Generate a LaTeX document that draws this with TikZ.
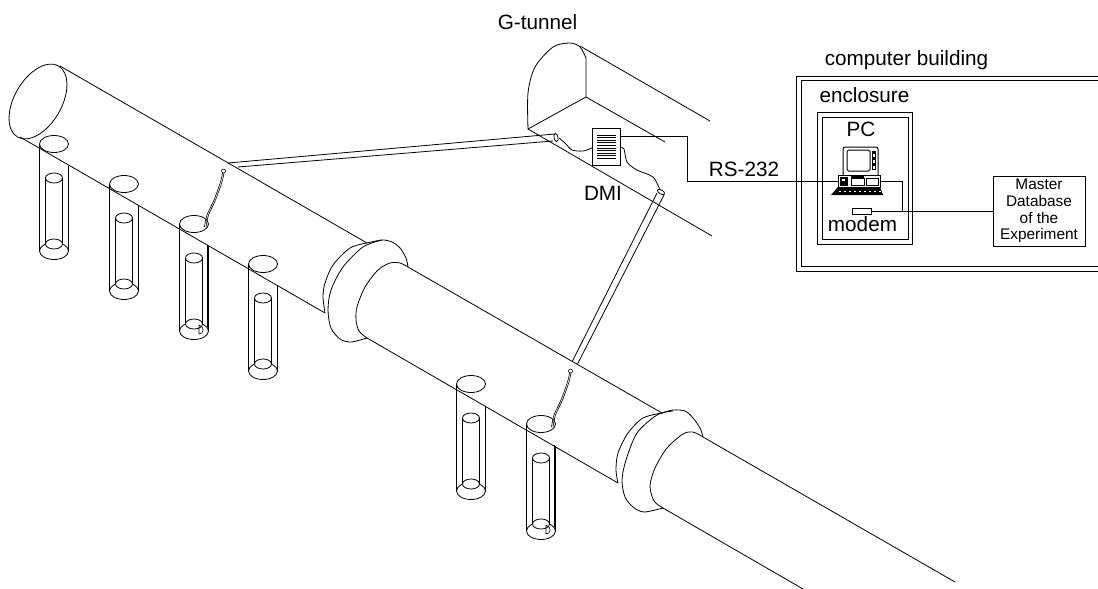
\documentclass[tikz,border=0pt]{standalone}
\usepackage{fontspec}
\setmainfont{Liberation Sans}
\usepackage{tikz}
\usetikzlibrary{
    positioning          % For label positioning
}

\begin{document}
\begin{tikzpicture}[
    x=1pt, y=-1pt,
    line/.style={black, line width=0.8pt}, % Style for all outlines
    cable/.style={black, line width=0.6pt}, % Style for thin sensor cables
    bigtext/.style={font=\fontsize{20.7}{24}\selectfont, inner sep=0pt}, % Style for labels
    smalltext/.style={font=\fontsize{15.4}{16.7}\selectfont, align=center, inner sep=0pt},
    box/.style={line, draw, fill=white, inner sep=0pt} % Style for boxes
]
    \useasboundingbox (0,0) rectangle (1098,589);

    % Main pipe, left part
    \draw[line, rotate around={60:(38,101.5)}] (38,101.5) ellipse (41pt and 23.6pt);
    \draw[line] (60,66) -- (367,243);
    \draw[line] (20,137) -- (325,313);

    % First flange
    \draw[line] plot[smooth] coordinates {(367,243) (350,248) (333,265) (325,283) (323,297) (325,313)};
    \draw[line] plot[smooth] coordinates {(382,240) (363,247) (343,267) (331,290) (328,310) (331,328) (340,339) (351,342) (367,338)};
    \draw[line] plot[smooth] coordinates {(367,243) (382,240) (392,242) (400,248) (406,258) (408,267)};
    \draw[line] plot[smooth] coordinates {(408,267) (400,263) (390,263) (378,270) (365,287) (357,307) (356,320) (359,331) (367,338)};

    % Main pipe, middle part
    \draw[line] (408,267) -- (662,413);
    \draw[line] (367,338) -- (618,483);

    % Second flange
    \draw[line] plot[smooth] coordinates {(662,413) (643,418) (628,433) (618,453) (616,470) (618,483)};
    \draw[line] plot[smooth] coordinates {(673,411) (657,415) (637,433) (626,460) (622,480) (625,497) (633,507) (644,512) (663,508)};
    \draw[line] plot[smooth] coordinates {(662,413) (673,410) (685,411) (693,418) (700,428) (703,437)};
    \draw[line] plot[smooth] coordinates {(703,437) (693,432) (683,434) (667,448) (655,468) (650,486) (654,501) (663,508)};

    % Main pipe, right part
    \draw[line] (703,437) -- (955,582);
    \draw[line] (663,508) -- (803,589);

    % Boreholes with their inner tubes
    \foreach \wx/\wy in {54/144,124/184,194/224,263/264,471/384,541/424} {
        \draw[line] (\wx,\wy) ellipse (14.5pt and 8.5pt);
        \draw[line] (\wx-14.5,\wy) -- (\wx-14.5,\wy+107);
        \draw[line] (\wx+14.5,\wy+21.5) -- (\wx+14.5,\wy+107);
        \draw[line] (\wx,\wy+107) ellipse (14.5pt and 8.5pt);
        \draw[line, fill=white] (\wx,\wy+100) ellipse (8.5pt and 5pt);
        \draw[line] (\wx-8.5,\wy+34) -- (\wx-8.5,\wy+100);
        \draw[line] (\wx+8.5,\wy+34) -- (\wx+8.5,\wy+100);
        \draw[line] (\wx,\wy+34) ellipse (8.5pt and 5pt);
    }

    % Sensor cables into the two instrumented boreholes
    \foreach \wx/\wy in {194/224,541/424} {
        \draw[cable] (\wx+29.5,\wy-53) circle (2pt);
        \draw[cable] plot[smooth] coordinates {(\wx+28.5,\wy-51) (\wx+26.5,\wy-42) (\wx+20,\wy-24) (\wx+13,\wy-9) (\wx+10.5,\wy+3)};
        \draw[cable] plot[smooth] coordinates {(\wx+30,\wy-51) (\wx+28,\wy-42) (\wx+21.5,\wy-24) (\wx+14.5,\wy-9) (\wx+12,\wy+3)};
        \draw[line] (\wx+13,\wy+21) -- (\wx+13,\wy+103);
        \draw[cable] (\wx+5,\wy+101) -- (\wx+5,\wy+110) .. controls (\wx+10,\wy+110) and (\wx+11,\wy+103) .. (\wx+5,\wy+101);
    }

    % G-tunnel
    \draw[line] plot[smooth] coordinates {(528,129) (528,93) (535,67) (553,47) (570,43) (580,47) (586,58)} -- (586,97) -- cycle;
    \draw[line] (580,46) -- (710,121);
    \draw[line] (586,97) -- (665,142);
    \draw[line] (528,129) -- (712,236);

    % Conduits from the tunnel down to the pipe
    \draw[line] (228,163) -- (555,134);
    \draw[line] (238,167) -- (553,141);
    \draw[line, rotate around={10:(556,137.5)}] (556,137.5) ellipse (2pt and 4pt);
    \draw[line] (657,193) -- (572,362);
    \draw[line] (664,195) -- (577,365);
    \draw[line, rotate around={-30:(661,192)}] (661,192) ellipse (4pt and 2pt);

    % DMI box with its lines of text
    \node[box, minimum width=28pt, minimum height=37pt] (dmi) at (606,146.5) {};
    \foreach \ly in {135,137.6,...,159} {
        \draw[line] (597,\ly) -- (616,\ly);
    }
    \coordinate (rsport) at (620,136);
    \coordinate (rsbend) at (687,181.5);

    % Cables from the conduits to the DMI
    \draw[line] plot[smooth] coordinates {(559,138) (565,143) (572,150) (583,151) (592,148)};
    \draw[line] plot[smooth] coordinates {(620,147) (624,149) (627,162) (637,170) (653,177) (660,190)};

    % Computer building and enclosure, open at the right picture edge
    \draw[line] (1098,76) -- (796,76) -- (796,271) -- (1098,271);
    \draw[line] (1098,80) -- (801,80) -- (801,266) -- (1098,266);
    \draw[line] (817,112) rectangle (912,244);
    \draw[line] (822,117) rectangle (908,239);

    % PC
    \draw[line, line width=1pt, rounded corners=2pt] (843,175) -- (843,147) -- (878,147) -- (878,175);
    \draw[line, line width=1pt, rounded corners=1.5pt] (847,150) rectangle (870,171);
    \fill[black] (872,151) rectangle (876,170);
    \foreach \sy in {154,160,166} {
        \fill[white] (873,\sy) rectangle (875,\sy+3);
    }
    \node[box, minimum width=42pt, minimum height=12pt] (pc) at (859,181.5) {};
    \fill[black] (840,177) rectangle (848,186);
    \fill[white] (842,179) rectangle (845,181);
    \draw[line] (851,178) rectangle (864,185);
    \fill[black] (851,176) rectangle (864,179);
    \draw[line] (866,178) rectangle (878,185);
    \fill[black] (838,187) -- (880,187) -- (883,195) -- (831,195) -- cycle;
    \foreach \kx in {839,844,...,879} {
        \fill[white] (\kx,190.5) rectangle (\kx+1.5,191.5);
    }

    % Modem and database
    \node[box, minimum width=19pt, minimum height=6pt] (modembox) at (861.5,211) {};
    \node[box, smalltext, minimum width=92pt, minimum height=70pt] (master) at (1039,211) {Master\\Database\\of the\\Experiment};
    \coordinate (pcdrop) at (902,211);

    % Connections
    \draw[line] (rsport) -| (rsbend) -- (pc.west);
    \draw[line] (pc.east) -| (pcdrop);
    \draw[line] (modembox.east) -- (master.west);

    % Labels
    \node[bigtext] (tunnellabel) at (537.5,22) {G-tunnel};
    \node[bigtext] (dmilabel) at (603,193) {DMI};
    \node[bigtext] (rslabel) at (744,169) {RS-232};
    \node[bigtext] (buildinglabel) at (906.5,60) {computer building};
    \node[bigtext] (enclosurelabel) at (864.5,95) {enclosure};
    \node[bigtext] (pclabel) at (861,129) {PC};
    \node[bigtext] (modemlabel) at (862.5,224) {modem};

\end{tikzpicture}
\end{document}
